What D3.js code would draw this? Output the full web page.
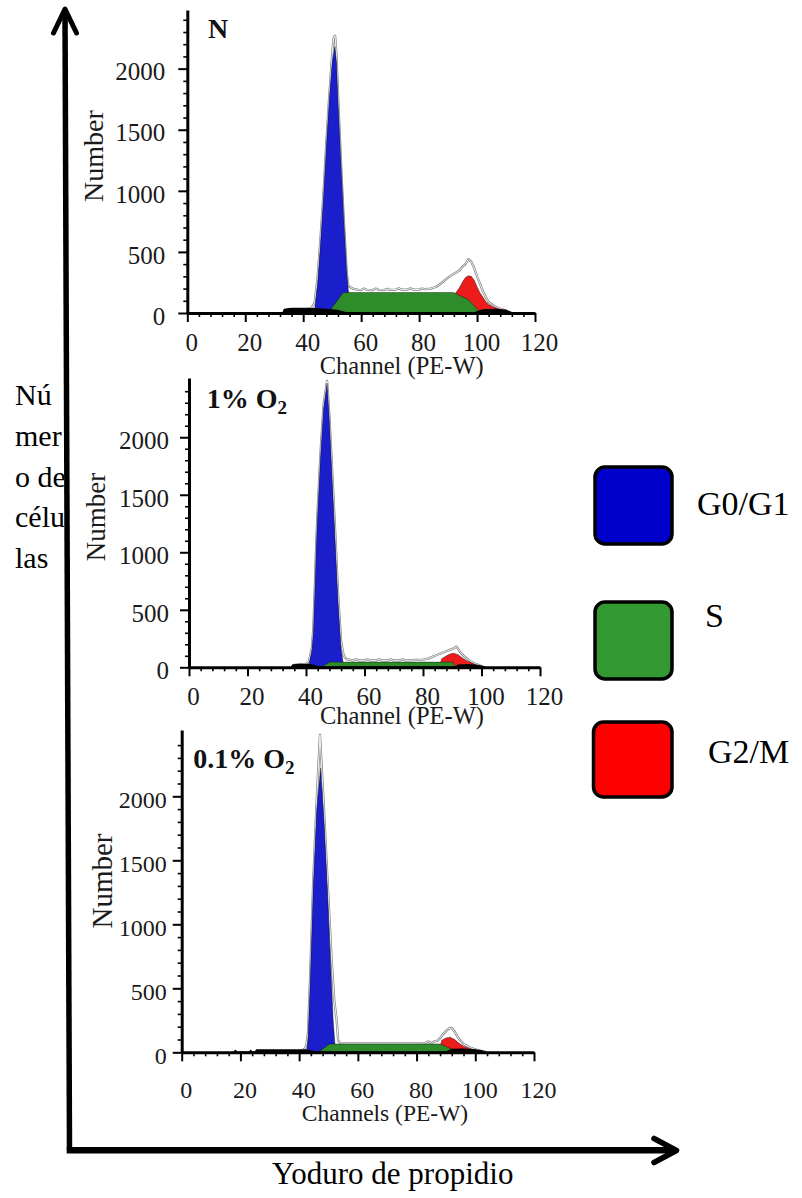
<!DOCTYPE html>
<html>
<head>
<meta charset="utf-8">
<script src="https://cdn.jsdelivr.net/npm/d3@7"></script>
<style>
  html, body { margin: 0; padding: 0; background: #fff; }
  svg { display: block; }
</style>
</head>
<body>
<svg id="chart" width="802" height="1198"></svg>
<script>
// ---- Cell-cycle histograms: [channel, count] points for each fitted component ----

// Normoxia (N)
const nRaw = [[33,0],[34,25],[36,30],[38,28],[40,30],[42,35],[43,45],[44,90],[45,300],[46,620],[47,980],[48,1400],[49,1780],[50,2120],[50.5,2250],[51,2270],[51.5,2100],[52,1800],[53,1250],[54,760],[55,340],[55.5,230],[56,215],[57,200],[58,195],[59,190],[60,188],[61,200],[62,190],[64,188],[65,200],[66,190],[68,188],[69,198],[70,190],[72,192],[73,202],[74,192],[76,192],[77,202],[78,192],[80,192],[81,200],[82,195],[84,200],[86,215],[88,250],[90,290],[92,320],[94,350],[95,380],[96,400],[97,440],[98,420],[99,370],[100,300],[101,240],[102,180],[103,130],[104,90],[106,55],[108,35],[110,20],[112,0]];
const nG1 = [[43.5,0],[44,40],[45,250],[46,580],[47,950],[48,1380],[49,1750],[50,2050],[50.9,2180],[51.5,2050],[52,1750],[53,1250],[54,780],[55,350],[55.6,180],[56.5,60],[57.5,0]];
const nS = [[48.6,0],[53.8,168],[91.8,168],[97,110],[100.5,20],[101,0]];
const nG2 = [[91,0],[92.5,160],[94,210],[95,255],[96,290],[97,305],[98,300],[99,270],[100,215],[101,165],[102,130],[103,95],[104,70],[105.5,50],[108,30],[110,15],[111.5,0]];
const nDebris = [[33,0],[33.5,30],[36,38],[40,38],[44,35],[48,30],[52,20],[55,0],[99,0],[102,25],[106,30],[110,22],[112,0]];

// 1% O2
const o1Raw = [[35,0],[36,20],[38,25],[40,28],[41,50],[42,170],[42.5,330],[43,680],[43.5,1080],[44,1380],[45,1880],[46,2280],[47.2,2490],[48,2180],[49,1680],[50,1170],[51,620],[52,230],[52.8,110],[53.5,80],[54,70],[56,60],[57,70],[58,60],[60,60],[61,70],[62,60],[64,60],[65,70],[66,60],[68,60],[69,70],[70,60],[72,60],[73,70],[74,60],[76,62],[78,64],[80,66],[82,78],[84,100],[86,120],[88,140],[90,160],[91.5,180],[92.5,140],[93.5,110],[94.5,85],[96,55],[98,28],[100,10],[101,0]];
const o1G1 = [[40.5,0],[41,20],[42,150],[42.5,300],[43,650],[43.5,1050],[44,1350],[45,1850],[46,2250],[47.2,2470],[48,2150],[48.8,1715],[49.9,1136],[51,550],[52,160],[52.7,40],[53.5,0]];
const o1S = [[44.8,0],[48.2,45],[90.2,45],[91.2,0]];
const o1G2 = [[85.5,0],[86.4,75],[88,100],[89.5,118],[90.5,122],[92,110],[93.5,80],[95,55],[96.6,40],[98,22],[99.5,8],[100.5,0]];
const o1Debris = [[35,0],[35.5,20],[38,25],[41,25],[43,15],[44,0],[91,0],[92,18],[95,22],[98,18],[100,10],[101,0]];

// 0.1% O2
const o01Raw = [[40,0],[42,30],[42.5,60],[43,150],[43.7,560],[44.8,1340],[46,1980],[47.1,2480],[48,2100],[49,1650],[50,1200],[51,750],[52,400],[52.8,250],[53.3,90],[54,72],[56,70],[60,70],[64,70],[68,70],[72,70],[76,70],[80,70],[83,72],[84,85],[85,72],[86,85],[87,90],[88,110],[89,140],[90,165],[91,185],[92,190],[93,160],[94,120],[95,90],[96,65],[98,40],[99,30],[101,15],[103,8],[104,0]];
const o01G1 = [[42.5,0],[43,100],[43.7,510],[44.8,1290],[46,1900],[47.3,2220],[48.5,1800],[49.6,1290],[50.5,800],[51.6,250],[52.2,60],[52.6,0]];
const o01S = [[46.5,0],[50.3,65],[88,65],[92.5,20],[93.5,0]];
const o01G2 = [[87.5,0],[88.6,95],[90,112],[91.4,118],[93,100],[94.5,70],[96,47],[98,30],[100.5,12],[101.5,0]];
const o01Debris = [[17.8,0],[18.3,14],[18.8,0],[23,0],[23.5,14],[24,0],[25,0],[25.5,18],[42,18],[44,10],[46,0],[90,0],[92,22],[96,25],[100,18],[102.5,10],[103.5,0]];

// Axis ticks
const xMajorTicks = [0, 20, 40, 60, 80, 100, 120];
const yMajorTicks = [0, 500, 1000, 1500, 2000];

// Legend
const phases = ["G0/G1", "S", "G2/M"];
const phaseFill = { "G0/G1": "#0000cc", "S": "#339933", "G2/M": "#ff0000" };
const areaFill = { g1: "#1b1fcb", s: "#2f8c2a", g2: "#ec1c1c", debris: "#000" };

// Outer axis text
const yOuterLines = ["Nú", "mer", "o de", "célu", "las"];
const xOuterTitle = "Yoduro de propidio";

const FONT = "'Liberation Serif','Times New Roman',Times,serif";
const svg = d3.select("#chart");

// Panel layout
const panels = [
  { title: "N", sub: null, raw: nRaw, g1: nG1, s: nS, g2: nG2, debris: nDebris,
    x0: 187.3, x1: 535, bottom: 313, top: 10, yTop: 2480,
    tickFont: 25, xPad: 11, yPad: 13,
    xTitle: "Channel (PE-W)", xTitlePos: [401.7, 373.5], xTitleFont: 24.5,
    yTitlePos: [103, 156], yTitleFont: 28, titlePos: [208, 38.3] },
  { title: "1% O", sub: "2", raw: o1Raw, g1: o1G1, s: o1S, g2: o1G2, debris: o1Debris,
    x0: 189, x1: 540, bottom: 667.3, top: 378, yTop: 2515,
    tickFont: 25, xPad: 10.5, yPad: 11,
    xTitle: "Channel (PE-W)", xTitlePos: [402, 724], xTitleFont: 24.5,
    yTitlePos: [105, 517], yTitleFont: 27, titlePos: [206.7, 408.3] },
  { title: "0.1% O", sub: "2", raw: o01Raw, g1: o01G1, s: o01S, g2: o01G2, debris: o01Debris,
    x0: 181.7, x1: 534, bottom: 1052.3, top: 730, yTop: 2518,
    tickFont: 24, xPad: 20, yPad: 6,
    xTitle: "Channels (PE-W)", xTitlePos: [385, 1121], xTitleFont: 23.5,
    yTitlePos: [111.5, 881], yTitleFont: 29, titlePos: [193.3, 768.3] }
];

panels.forEach(p => {
  const g = svg.append("g");
  const x = d3.scaleLinear().domain([0, 120]).range([p.x0, p.x1]);
  const y = d3.scaleLinear().domain([0, p.yTop]).range([p.bottom, p.top]);

  const area = d3.area().x(d => x(d[0])).y0(y(0)).y1(d => y(d[1]));
  const line = d3.line().x(d => x(d[0])).y(d => y(d[1]));

  // measured histogram outline (drawn behind the fitted components)
  g.append("path").attr("d", line(p.raw))
    .attr("fill", "none").attr("stroke", "#808080").attr("stroke-width", 2.3)
    .attr("stroke-linejoin", "round");
  g.append("path").attr("d", line(p.raw))
    .attr("fill", "none").attr("stroke", "#fff").attr("stroke-width", 0.9)
    .attr("stroke-linejoin", "round");

  // fitted components
  [["g1", p.g1], ["g2", p.g2], ["s", p.s], ["debris", p.debris]].forEach(([k, pts]) => {
    g.append("path").attr("d", area(pts))
      .attr("fill", areaFill[k])
      .attr("stroke", k === "debris" ? "#000" : "rgba(0,0,0,0.55)")
      .attr("stroke-width", k === "debris" ? 1.4 : 0.7)
      .attr("stroke-linejoin", "round");
  });

  // x axis
  const gx = g.append("g").attr("transform", `translate(0,${p.bottom})`)
    .call(d3.axisBottom(x).tickValues(xMajorTicks).tickSize(9).tickSizeOuter(0)
      .tickPadding(p.xPad).tickFormat(d3.format("d")));
  gx.select(".domain").attr("stroke", "#000").attr("stroke-width", 3);
  gx.selectAll(".tick line").attr("stroke", "#000").attr("stroke-width", 2);
  gx.selectAll("text").attr("font-family", FONT).attr("font-size", p.tickFont)
    .attr("fill", "#1a1a1a").attr("dx", 4);

  const gxm = g.append("g").attr("transform", `translate(0,${p.bottom})`)
    .call(d3.axisBottom(x).tickValues(d3.range(0, 121, 4).filter(v => v % 20 !== 0))
      .tickSize(4).tickSizeOuter(0).tickFormat(""));
  gxm.select(".domain").remove();
  gxm.selectAll(".tick line").attr("stroke", "#000").attr("stroke-width", 1.6);

  // y axis
  const gy = g.append("g").attr("transform", `translate(${p.x0},0)`)
    .call(d3.axisLeft(y).tickValues(yMajorTicks).tickSize(9).tickSizeOuter(0)
      .tickPadding(p.yPad).tickFormat(d3.format("d")));
  gy.select(".domain").attr("stroke", "#000").attr("stroke-width", 3);
  gy.selectAll(".tick line").attr("stroke", "#000").attr("stroke-width", 2);
  gy.selectAll("text").attr("font-family", FONT).attr("font-size", p.tickFont)
    .attr("fill", "#1a1a1a").attr("dy", "0.45em");

  const gym = g.append("g").attr("transform", `translate(${p.x0},0)`)
    .call(d3.axisLeft(y).tickValues(d3.range(100, p.yTop, 100).filter(v => v % 500 !== 0))
      .tickSize(4).tickSizeOuter(0).tickFormat(""));
  gym.select(".domain").remove();
  gym.selectAll(".tick line").attr("stroke", "#000").attr("stroke-width", 1.6);

  // axis titles
  g.append("text").attr("x", p.xTitlePos[0]).attr("y", p.xTitlePos[1])
    .attr("text-anchor", "middle").attr("font-family", FONT)
    .attr("font-size", p.xTitleFont).attr("fill", "#1a1a1a").text(p.xTitle);
  g.append("text")
    .attr("transform", `translate(${p.yTitlePos[0]},${p.yTitlePos[1]}) rotate(-90)`)
    .attr("text-anchor", "middle").attr("font-family", FONT)
    .attr("font-size", p.yTitleFont).attr("fill", "#1a1a1a").text("Number");

  // condition label
  const t = g.append("text").attr("x", p.titlePos[0]).attr("y", p.titlePos[1])
    .attr("font-family", FONT).attr("font-weight", "bold").attr("font-size", 28)
    .attr("fill", "#111");
  t.append("tspan").text(p.title);
  if (p.sub) t.append("tspan").attr("font-size", 19).attr("dy", 6).text(p.sub);
});

// ---- outer axes (arrows) ----
svg.append("defs").append("clipPath").attr("id", "leftText")
  .append("rect").attr("x", 0).attr("y", 0).attr("width", 64).attr("height", 1198);

const yText = svg.append("g").attr("clip-path", "url(#leftText)");
const lineY = d3.scaleLinear().domain([0, yOuterLines.length - 1]).range([405, 568]);
yOuterLines.forEach((s, i) => {
  yText.append("text").attr("x", 15).attr("y", lineY(i))
    .attr("font-family", FONT).attr("font-size", 30).attr("fill", "#000").text(s);
});

const arrow = svg.append("g").attr("stroke", "#000").attr("fill", "none")
  .attr("stroke-linecap", "round").attr("stroke-linejoin", "round");
arrow.append("line").attr("x1", 65).attr("y1", 12).attr("x2", 69.5).attr("y2", 1150)
  .attr("stroke-width", 5.5).attr("stroke-linecap", "butt");
arrow.append("polyline").attr("points", "53.5,33 65,9 76.5,33").attr("stroke-width", 5);
arrow.append("line").attr("x1", 66.7).attr("y1", 1150.3).attr("x2", 674).attr("y2", 1150.3)
  .attr("stroke-width", 6.5).attr("stroke-linecap", "butt");
arrow.append("polyline").attr("points", "654,1138.5 676.5,1150.5 654,1162.5").attr("stroke-width", 5.5);

svg.append("text").attr("x", 272).attr("y", 1183.5)
  .attr("font-family", FONT).attr("font-size", 31).attr("fill", "#000").text(xOuterTitle);

// ---- legend ----
const legendBox = [
  { x: 595, y: 467, w: 77, h: 77, tx: 697, ty: 515 },
  { x: 595, y: 602, w: 77, h: 77, tx: 705, ty: 627 },
  { x: 593.5, y: 722, w: 78.5, h: 75, tx: 708, ty: 763 }
];
phases.forEach((ph, i) => {
  const b = legendBox[i];
  svg.append("rect").attr("x", b.x).attr("y", b.y).attr("width", b.w).attr("height", b.h)
    .attr("rx", 10).attr("fill", phaseFill[ph]).attr("stroke", "#000").attr("stroke-width", 3.5);
  svg.append("text").attr("x", b.tx).attr("y", b.ty)
    .attr("font-family", FONT).attr("font-size", 34).attr("fill", "#000").text(ph);
});
</script>
</body>
</html>
